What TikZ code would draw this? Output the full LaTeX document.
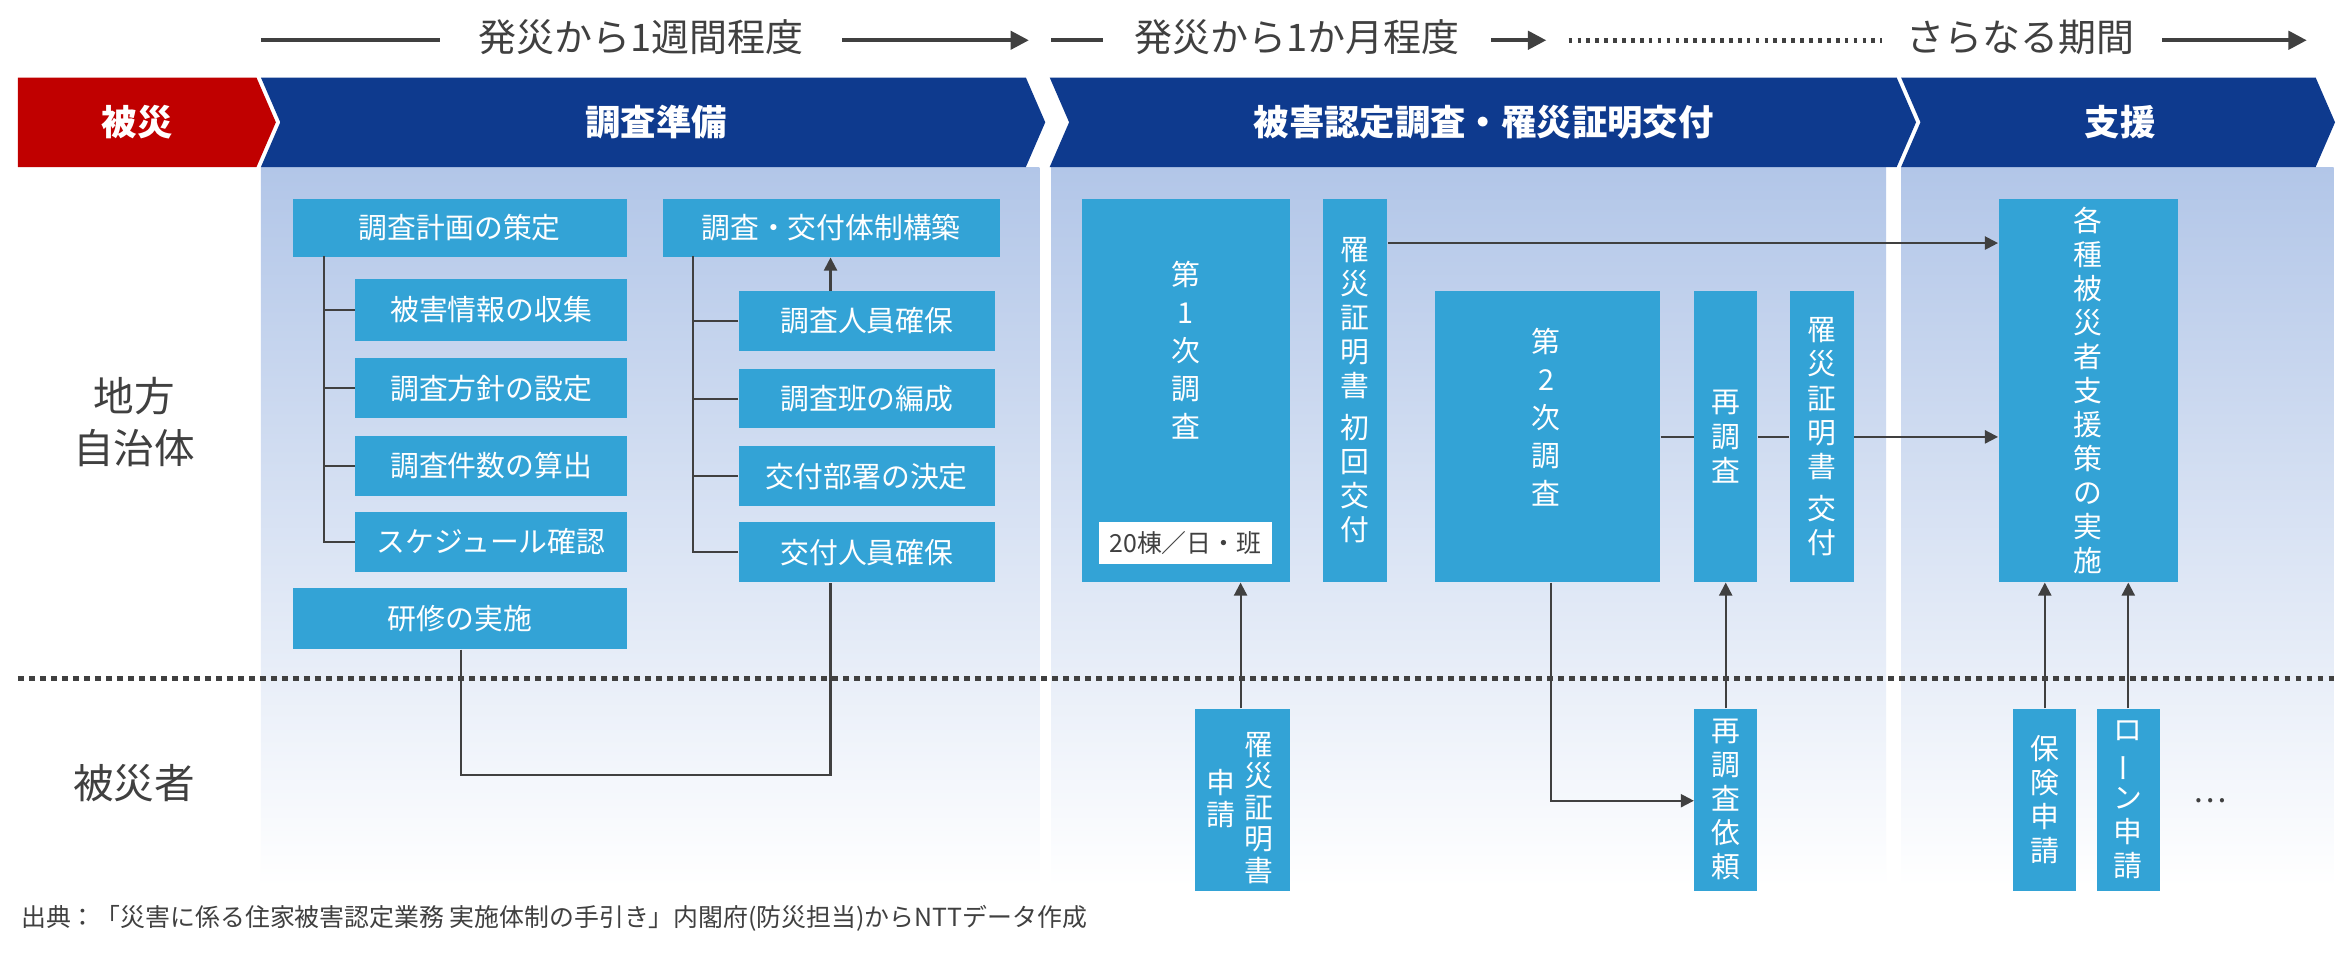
\documentclass[tikz,border=0pt]{standalone}
\usepackage{fontspec}
\setmainfont{Noto Sans CJK JP}
\usetikzlibrary{arrows.meta}
\definecolor{hb}{RGB}{14,58,142}
\definecolor{hr}{RGB}{192,0,0}
\definecolor{bx}{RGB}{51,163,214}
\definecolor{pn}{RGB}{178,198,232}
\definecolor{ln}{RGB}{64,64,64}
\tikzset{
 box/.style={fill=bx,text=white,inner sep=0pt,anchor=north west,font=\fontsize{11}{13}\selectfont,align=center},
 conn/.style={draw=ln,line width=0.8pt},
 arr/.style={conn,-{Triangle[length=5pt,width=5pt]}},
 hdr/.style={text=white,font=\fontsize{13.5}{15}\selectfont\bfseries},
 tl/.style={draw=ln,line width=1.4pt},
 tla/.style={tl,-{Triangle[length=7pt,width=7pt]}},
 tlt/.style={font=\fontsize{14.5}{16}\selectfont,text=ln},
}
\newcommand{\bx}[6]{\node[box,minimum width={(#4-#2)*0.02cm},minimum height={(#5-#3)*0.02cm}] (#1) at (#2,#3) {#6};}
\begin{document}
\begin{tikzpicture}[x=0.02cm,y=-0.02cm]
\useasboundingbox (0,0) rectangle (1568,640);
\fill[white] (0,0) rectangle (1568,640);
% panels
\foreach \a/\b in {175/697,705/1265,1275/1565}{
 \shade[top color=pn,bottom color=white] (\a,112) rectangle (\b,595);}
% timeline
\draw[tl] (175,27) -- (295,27);
\node[tlt] (t1) at (430,25) {発災から1週間程度};
\draw[tla] (565,27) -- (690,27);
\draw[tl] (705,27) -- (740,27);
\node[tlt] (t2) at (870,25) {発災から1か月程度};
\draw[tla] (1000,27) -- (1037,27);
\draw[tl,dotted,line width=1.8pt] (1052,27) -- (1262,27);
\node[tlt] (t3) at (1355,25) {さらなる期間};
\draw[tla] (1450,27) -- (1547,27);
% header
\fill[hr] (12,52) -- (172,52) -- (185,82) -- (172,112) -- (12,112) -- cycle;
\node[hdr] (h0) at (92,82) {被災};
\fill[hb] (175,52) -- (688,52) -- (701,82) -- (688,112) -- (175,112) -- (188,82) -- cycle;
\node[hdr] (h1) at (440,82) {調査準備};
\fill[hb] (704,52) -- (1272,52) -- (1285,82) -- (1272,112) -- (704,112) -- (717,82) -- cycle;
\node[hdr] (h2) at (995,82) {被害認定調査・罹災証明交付};
\fill[hb] (1275,52) -- (1553,52) -- (1566,82) -- (1553,112) -- (1275,112) -- (1288,82) -- cycle;
\node[hdr] (h3) at (1422,82) {支援};
% separator
\draw[ln,line width=2.2pt,dotted] (12,455) -- (1565,455);
\node[font=\fontsize{15.5}{20}\selectfont,align=center,text=ln] (l1) at (90,283) {地方\\自治体};
\node[font=\fontsize{15.5}{20}\selectfont,text=ln] (l2) at (90,525) {被災者};
% prep boxes
\bx{a0}{196}{133}{420}{172}{調査計画の策定}
\bx{a1}{238}{187}{420}{228}{被害情報の収集}
\bx{a2}{238}{240}{420}{280}{調査方針の設定}
\bx{a3}{238}{292}{420}{332}{調査件数の算出}
\bx{a4}{238}{343}{420}{383}{スケジュール確認}
\bx{a5}{196}{394}{420}{435}{研修の実施}
\draw[conn] (217,172) -- (217,363);
\foreach \n in {a1,a2,a3,a4}{\draw[conn] (\n.west) -| (217,172);}
\bx{b0}{444}{133}{670}{172}{調査・交付体制構築}
\bx{b1}{495}{195}{667}{235}{調査人員確保}
\bx{b2}{495}{247}{667}{287}{調査班の編成}
\bx{b3}{495}{299}{667}{339}{交付部署の決定}
\bx{b4}{495}{350}{667}{390}{交付人員確保}
\draw[conn] (465,172) -- (465,370);
\foreach \n in {b1,b2,b3,b4}{\draw[conn] (\n.west) -| (465,172);}
\draw[arr] (b1.north -| 557,0) -- (b0.south -| 557,0);
\draw[conn] (a5.south -| 309,0) |- (557,520) -- (b4.south -| 557,0);
% survey
\bx{c1}{725}{133}{865}{390}{}
\node[font=\fontsize{11}{14.5}\selectfont,text=white,align=center] (c1t) at (795,235) {第\\1\\次\\調\\査};
\node[fill=white,text=ln,inner sep=0pt,minimum width=2.32cm,minimum height=0.56cm,font=\fontsize{9.5}{11}\selectfont] (c1s) at (795,364) {20棟／日・班};
\bx{c2}{887}{133}{930}{390}{罹\\災\\証\\明\\書\\[3pt]初\\回\\交\\付}
\bx{d1}{962}{195}{1113}{390}{}
\node[font=\fontsize{11}{14.5}\selectfont,text=white,align=center] (d1t) at (1037,280) {第\\2\\次\\調\\査};
\bx{d2}{1136}{195}{1178}{390}{再\\調\\査}
\bx{d3}{1200}{195}{1243}{390}{罹\\災\\証\\明\\書\\[3pt]交\\付}
\bx{e1}{1340}{133}{1460}{390}{各\\種\\被\\災\\者\\支\\援\\策\\の\\実\\施}
\draw[arr] (c2.east |- 0,163) -- (e1.west |- 0,163);
\draw[conn] (d1.east |- 0,293) -- (d2.west |- 0,293);
\draw[conn] (d2.east |- 0,293) -- (d3.west |- 0,293);
\draw[arr] (d3.east |- 0,293) -- (e1.west |- 0,293);
% victims
\bx{f1}{801}{475}{865}{597}{}
\node[font=\fontsize{11}{12}\selectfont,text=white,align=center,anchor=north] (f1a) at (844,485) {罹\\災\\証\\明\\書};
\node[font=\fontsize{11}{12}\selectfont,text=white,align=center,anchor=north] (f1b) at (819,510) {申\\請};
\draw[arr] (f1.north -| 832,0) -- (c1.south -| 832,0);
\bx{f2}{1136}{475}{1178}{597}{再\\調\\査\\依\\頼}
\draw[arr] (f2.north) -- (d2.south);
\draw[arr] (d1.south -| 1040,0) |- (f2.west |- 0,537);
\bx{g1}{1350}{475}{1392}{597}{保\\険\\申\\請}
\bx{g2}{1406}{475}{1448}{597}{ロ\\\rotatebox[origin=c]{90}{ー}\\ン\\申\\請}
\draw[arr] (g1.north) -- (g1.north |- e1.south);
\draw[arr] (g2.north) -- (g2.north |- e1.south);
\node[text=ln,font=\fontsize{12}{13}\selectfont] (dots) at (1482,537) {…};
\node[anchor=west,text=ln,font=\fontsize{9.5}{11}\selectfont] (src) at (8,616) {出典：「災害に係る住家被害認定業務 実施体制の手引き」内閣府(防災担当)からNTTデータ作成};
\end{tikzpicture}
\end{document}
